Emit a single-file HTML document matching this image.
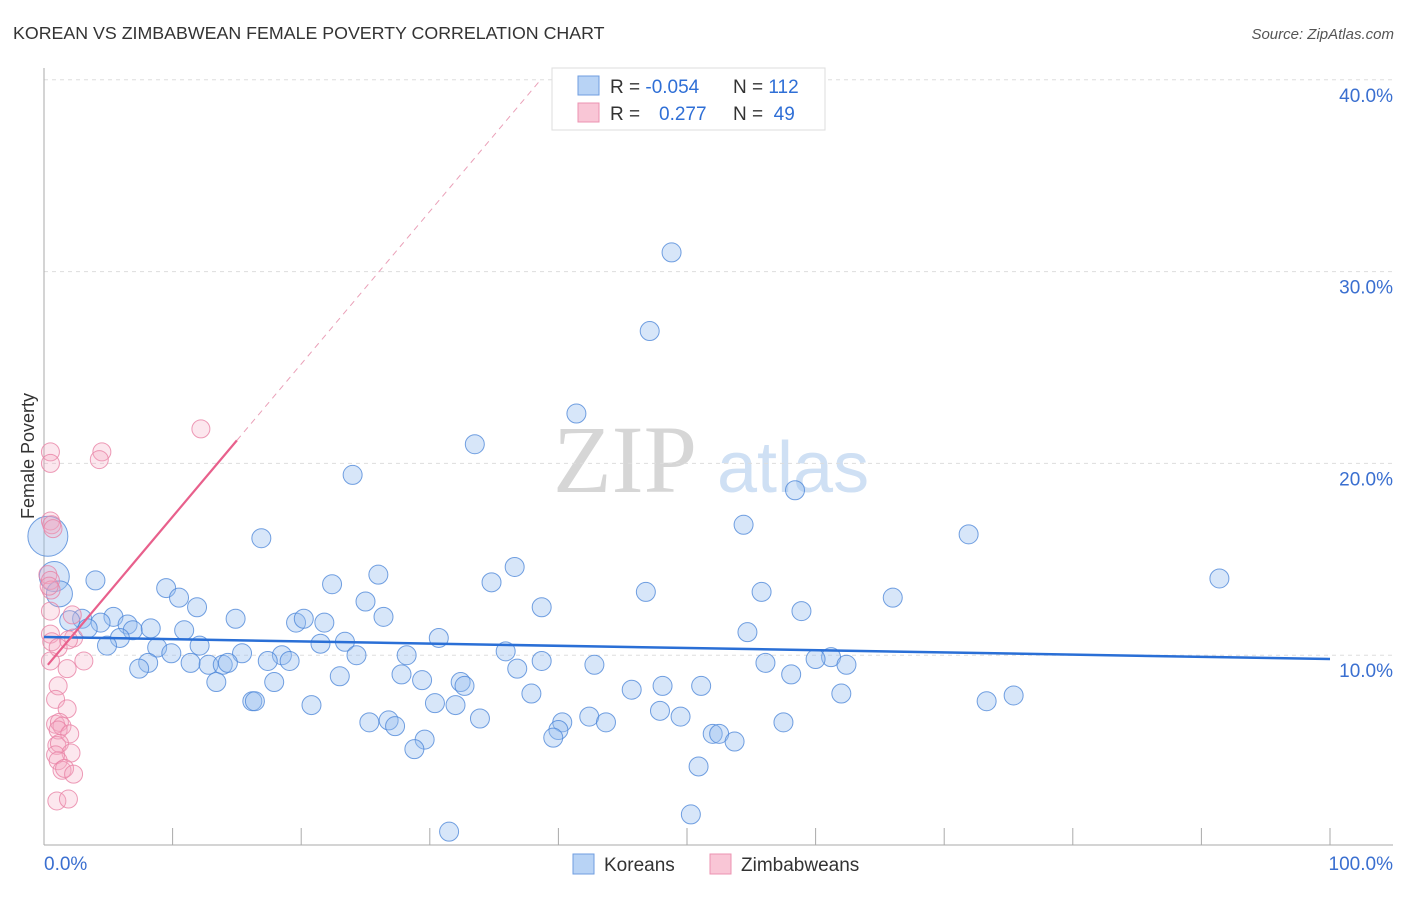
<!DOCTYPE html>
<html><head><meta charset="utf-8"><style>
body{margin:0;background:#fff;font-family:"Liberation Sans",sans-serif}
svg text{font-family:"Liberation Sans",sans-serif}
</style></head><body>
<svg id="c" width="1406" height="892">
<text x="13" y="39" font-size="17.8" fill="#333">KOREAN VS ZIMBABWEAN FEMALE POVERTY CORRELATION CHART</text>
<text x="1394" y="39" font-size="15" fill="#555" font-style="italic" text-anchor="end">Source: ZipAtlas.com</text>
<g>
<text x="553" y="492" font-size="96" fill="#d6d6d6" style="font-family:'Liberation Serif',serif">ZIP</text>
<text x="717" y="492" font-size="72" fill="#cfe0f4">atlas</text>
</g>
<g id="grid"></g>
<g id="axes"></g>
<g id="pts"></g>
<g id="trend"></g>
<text transform="translate(34,456) rotate(-90)" font-size="18" fill="#333" text-anchor="middle">Female Poverty</text>
<g>
<rect x="552" y="68" width="273" height="62" fill="#fff" stroke="#ddd"/>
<rect x="578" y="76" width="21" height="19" fill="#b8d3f5" stroke="#6f9ee0"/>
<rect x="578" y="103" width="21" height="19" fill="#f9c6d6" stroke="#ec93b1"/>
<text x="610" y="93" font-size="19" fill="#333">R = <tspan fill="#2f6fd6">-0.054</tspan></text>
<text x="733" y="93" font-size="19" fill="#333">N = <tspan fill="#2f6fd6">112</tspan></text>
<text x="610" y="120" font-size="19" fill="#333">R = </text>
<text x="659" y="120" font-size="19" fill="#2f6fd6">0.277</text>
<text x="733" y="120" font-size="19" fill="#333">N = <tspan fill="#2f6fd6">&#160;49</tspan></text>
</g>
<g>
<rect x="573" y="854" width="21" height="20" fill="#b8d3f5" stroke="#6f9ee0"/>
<text x="604" y="871" font-size="19" fill="#333">Koreans</text>
<rect x="710" y="854" width="21" height="20" fill="#f9c6d6" stroke="#ec93b1"/>
<text x="741" y="871" font-size="19" fill="#333">Zimbabweans</text>
</g>
</svg>
<script>
const yTicks=[10,20,30,40];
const yTickLabels=["10.0%","20.0%","30.0%","40.0%"];
const xTickLabels=["0.0%","100.0%"];
const koreansX=[48.8,47.1,41.4,33.5,24.0,58.4,54.4,71.9,16.9,91.4,26.0,36.6,34.8,22.4,4.0,9.5,10.5,46.8,55.8,66.0,11.9,25.0,38.7,58.9,26.4,14.9,5.4,6.5,2.96,4.4,19.6,20.2,21.8,3.4,6.9,8.3,10.9,5.9,54.7,30.7,12.1,21.5,23.4,4.9,8.8,9.9,15.4,18.5,24.3,28.2,35.9,61.2,60.0,8.1,11.4,12.8,13.9,14.3,17.4,19.1,38.7,36.8,42.8,56.1,62.4,7.4,27.8,58.1,23.0,13.4,17.9,29.4,32.4,32.7,45.7,48.1,51.1,37.9,62.0,16.2,16.4,20.8,30.4,32.0,73.3,75.4,47.9,49.5,25.3,26.8,27.3,33.9,42.4,43.7,57.5,40.3,40.0,39.6,52.0,52.5,53.7,29.6,28.8,50.9,50.3,31.5,0.3,0.8,1.2,2.0];
const koreansY=[31.0,26.9,22.6,21.0,19.4,18.6,16.8,16.3,16.1,14.0,14.2,14.6,13.8,13.7,13.9,13.5,13.0,13.3,13.3,13.0,12.5,12.8,12.5,12.3,12.0,11.9,12.0,11.6,11.9,11.7,11.7,11.9,11.7,11.4,11.3,11.4,11.3,10.9,11.2,10.9,10.5,10.6,10.7,10.5,10.4,10.1,10.1,10.0,10.0,10.0,10.2,9.9,9.8,9.6,9.6,9.5,9.5,9.6,9.7,9.7,9.7,9.3,9.5,9.6,9.5,9.3,9.0,9.0,8.9,8.6,8.6,8.7,8.6,8.4,8.2,8.4,8.4,8.0,8.0,7.6,7.6,7.4,7.5,7.4,7.6,7.9,7.1,6.8,6.5,6.6,6.3,6.7,6.8,6.5,6.5,6.5,6.1,5.7,5.9,5.9,5.5,5.6,5.1,4.2,1.7,0.8,16.2,14.1,13.2,11.8];
const zimX=[12.2,4.5,4.3,0.5,0.5,0.5,0.6,0.7,0.3,0.5,0.55,0.4,0.5,2.2,2.3,1.9,0.5,0.6,1.1,0.5,3.1,1.8,1.1,0.9,1.8,0.9,1.2,1.4,1.1,2.0,1.0,1.2,2.1,0.9,1.1,1.4,1.6,2.3,1.0,1.9];
const zimY=[21.8,20.6,20.2,20.6,20.0,17.0,16.8,16.6,14.2,13.9,13.4,13.6,12.3,12.1,10.9,10.8,11.1,10.7,10.4,9.7,9.7,9.3,8.4,7.7,7.2,6.4,6.5,6.3,6.1,5.9,5.3,5.4,4.9,4.8,4.5,4.0,4.1,3.8,2.4,2.5];
const blueTrend=[10.95,9.8];
const pinkTrend=[9.26,0.796];
const X0=44,X1=1330,Y0=847,PY=19.18;
const sx=v=>X0+v*(X1-X0)/100, sy=v=>Y0-v*PY;
const NS="http://www.w3.org/2000/svg";
function mk(tag,attrs,parent){const e=document.createElementNS(NS,tag);for(const k in attrs)e.setAttribute(k,attrs[k]);document.getElementById(parent).appendChild(e);return e;}
yTicks.forEach((t,i)=>{
 const g=mk('line',{x1:44,x2:1393,y1:sy(t),y2:sy(t),stroke:'#ddd','stroke-dasharray':'4,4'},'grid');
 
 
 const l=mk('text',{x:1393,y:sy(t)+22,'font-size':19,fill:'#3a6fd0','text-anchor':'end'},'axes');
 l.textContent=yTickLabels[i];
 
 
});
let a=mk('line',{x1:44,x2:44,y1:68,y2:845,stroke:'#aaa'},'axes');


a=mk('line',{x1:44,x2:1393,y1:845,y2:845,stroke:'#aaa'},'axes');


for(let i=1;i<=10;i++){const t=mk('line',{x1:sx(i*10),x2:sx(i*10),y1:828,y2:845,stroke:'#aaa'},'axes');
 
 }
let xl=mk('text',{x:44,y:870,'font-size':19,fill:'#3a6fd0'},'axes');xl.textContent=xTickLabels[0];


xl=mk('text',{x:1393,y:870,'font-size':19,fill:'#3a6fd0','text-anchor':'end'},'axes');xl.textContent=xTickLabels[1];


const bigR=[20,15,13,10];
koreansX.forEach((x,i)=>{
 const r=i>=koreansX.length-4?bigR[i-(koreansX.length-4)]:9.5;
 const c=mk('circle',{cx:sx(x),cy:sy(koreansY[i]),r:r,fill:'rgba(150,190,240,0.38)',stroke:'rgba(70,130,215,0.75)','stroke-width':1},'pts');
 
 
});
zimX.forEach((x,i)=>{
 const c=mk('circle',{cx:sx(x),cy:sy(zimY[i]),r:9,fill:'rgba(245,170,195,0.28)',stroke:'rgba(232,130,165,0.8)','stroke-width':1},'pts');
 
 
});
let t=mk('line',{x1:sx(0),y1:sy(blueTrend[0]),x2:sx(100),y2:sy(blueTrend[1]),stroke:'#2a6fd6','stroke-width':2.5},'trend');


const pe=15, pd=(40-pinkTrend[0])/pinkTrend[1];
t=mk('line',{x1:sx(0.3),y1:sy(pinkTrend[0]+0.3*pinkTrend[1]),x2:sx(pe),y2:sy(pinkTrend[0]+pe*pinkTrend[1]),stroke:'#e8608c','stroke-width':2.2},'trend');


t=mk('line',{x1:sx(pe),y1:sy(pinkTrend[0]+pe*pinkTrend[1]),x2:sx(pd),y2:sy(40),stroke:'#eaa0b8','stroke-width':1,'stroke-dasharray':'6,5'},'trend');


</script>
</body></html>
